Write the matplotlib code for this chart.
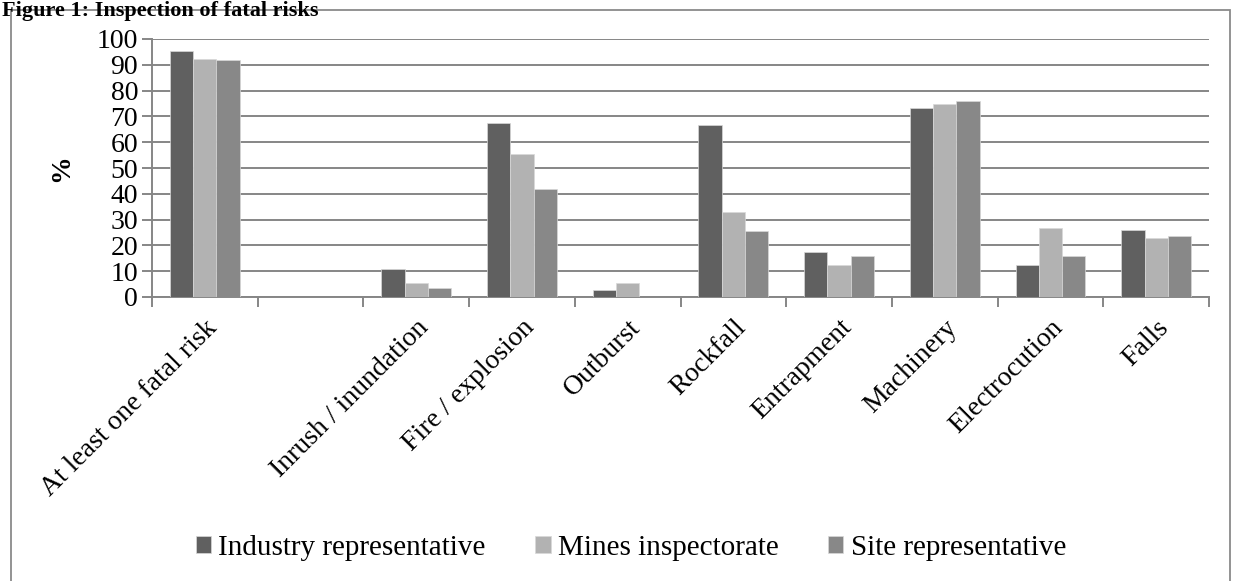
import matplotlib
matplotlib.use("Agg")
import matplotlib.pyplot as plt
import numpy as np
from matplotlib.patches import Rectangle

categories = ["At least one fatal risk", "", "Inrush / inundation", "Fire / explosion",
              "Outburst", "Rockfall", "Entrapment", "Machinery", "Electrocution", "Falls"]
industry = [95.5, 0, 11.0, 67.3, 2.8, 66.8, 17.6, 73.1, 12.3, 25.9]
inspectorate = [92.2, 0, 5.6, 55.5, 5.6, 33.1, 12.3, 74.8, 26.8, 23.0]
site = [91.7, 0, 3.6, 41.7, 0, 25.7, 15.7, 75.8, 15.7, 23.7]
series_names = ["Industry representative", "Mines inspectorate", "Site representative"]
colors = ["#606060", "#b2b2b2", "#888888"]
yticks = list(range(0, 101, 10))

plt.rcParams['font.family'] = ['Liberation Serif', 'DejaVu Serif']

W, H = 1234, 581
fig = plt.figure(figsize=(W / 100, H / 100), dpi=100)

# outer chart frame
fig.patches.append(Rectangle((11 / W, -0.01), (1230 - 11) / W, (H - 10) / H + 0.01,
                             transform=fig.transFigure, fill=False,
                             edgecolor="#8a8a8a", linewidth=1.3))
fig.text(2 / W, (H - 16) / H, "Figure 1: Inspection of fatal risks", fontsize=16,
         fontweight="bold", ha="left", va="baseline")

left, right, top, bottom = 152, 1209, 39, 297
ax = fig.add_axes([left / W, (H - bottom) / H, (right - left) / W, (bottom - top) / H])

x = np.arange(len(categories))
bw = 0.22
for i, (vals, name, c) in enumerate(zip([industry, inspectorate, site], series_names, colors)):
    ax.bar(x + (i - 1) * bw, vals, width=bw, color=c, label=name,
           edgecolor="#d8d8d8", linewidth=0.5, zorder=3)

ax.set_xlim(-0.5, len(categories) - 0.5)
ax.set_ylim(0, 100)
ax.set_yticks(yticks)
ax.yaxis.grid(True, color="#868686", linewidth=1.4, zorder=0)
ax.set_axisbelow(True)
for s in ["top", "right"]:
    ax.spines[s].set_visible(False)
for s in ["left", "bottom"]:
    ax.spines[s].set_color("#868686")
    ax.spines[s].set_linewidth(1.4)

ax.set_xticks(x)
ax.set_xticklabels(categories, rotation=45, ha="right", va="top",
                   rotation_mode="anchor", fontsize=20)
ax.tick_params(axis="x", which="major", length=0, pad=13)
ax.set_xticks(np.arange(-0.5, len(categories) + 0.5, 1), minor=True)
ax.tick_params(axis="x", which="minor", length=7, color="#868686", width=1.4)
ax.tick_params(axis="y", length=7, color="#868686", width=1.4, labelsize=20, pad=3)
ax.set_ylabel("%", fontsize=20, fontweight="bold", labelpad=16)

fig.legend(loc="center", bbox_to_anchor=(631 / W, (H - 548) / H), ncol=3, frameon=False,
           fontsize=21, handlelength=0.52, handleheight=0.52, handletextpad=0.25,
           columnspacing=1.7)

fig.savefig("out.png", dpi=100)
